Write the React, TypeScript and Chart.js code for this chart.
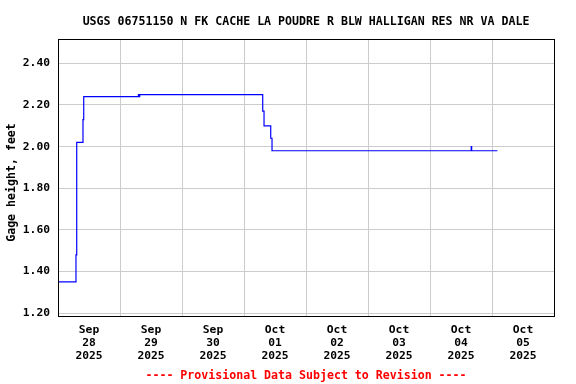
import React, { useEffect, useRef } from 'react';
import { Chart, registerables } from 'chart.js';

Chart.register(...registerables);

const TITLE = 'USGS 06751150 N FK CACHE LA POUDRE R BLW HALLIGAN RES NR VA DALE';
const Y_TITLE = 'Gage height, feet';
const FOOTER = '---- Provisional Data Subject to Revision ----';

// x in days from Sep 28 2025 00:00
const dayTicks = [0, 1, 2, 3, 4, 5, 6, 7];
const dayMonths = ['Sep', 'Sep', 'Sep', 'Oct', 'Oct', 'Oct', 'Oct', 'Oct'];
const dayNumbers = ['28', '29', '30', '01', '02', '03', '04', '05'];
const dayYears = ['2025', '2025', '2025', '2025', '2025', '2025', '2025', '2025'];

const yTicks = [1.2, 1.4, 1.6, 1.8, 2.0, 2.2, 2.4];

const times = [-0.5, -0.21, -0.198, -0.097, -0.085, 0.797, 0.807, 0.818, 2.802, 2.823, 2.931, 2.952, 6.165, 6.172, 6.587];
const gage = [1.35, 1.48, 2.02, 2.13, 2.24, 2.25, 2.24, 2.25, 2.17, 2.10, 2.04, 1.98, 2.00, 1.98, 1.98];

const FONT = "'DejaVu Sans Mono', 'Liberation Mono', monospace";

export default function App() {
  const ref = useRef<HTMLCanvasElement>(null);

  useEffect(() => {
    const canvas = ref.current!;
    const textPlugin = {
      id: 'usgsTexts',
      afterDraw(chart: any) {
        const ctx = chart.ctx as CanvasRenderingContext2D;
        const a = chart.chartArea;
        const cx = (a.left + a.right) / 2;
        ctx.save();
        ctx.strokeStyle = '#000000';
        ctx.lineWidth = 1;
        ctx.strokeRect(Math.round(a.left) + 0.5, Math.round(a.top) + 0.5, Math.round(a.right - a.left), Math.round(a.bottom - a.top));
        ctx.fillStyle = '#000000';
        ctx.textAlign = 'center';
        ctx.textBaseline = 'alphabetic';
        ctx.font = `bold 11.6px ${FONT}`;
        ctx.fillText(TITLE, cx, 25);
        ctx.fillStyle = '#ff0000';
        ctx.fillText(FOOTER, cx, 379);
        ctx.fillStyle = '#000000';
        ctx.font = `bold 11.6px ${FONT}`;
        ctx.translate(12, 182.5);
        ctx.rotate(-Math.PI / 2);
        ctx.textBaseline = 'middle';
        ctx.fillText(Y_TITLE, 0, 0);
        ctx.restore();
      },
    };

    const chart = new Chart(canvas, {
      type: 'line',
      data: {
        datasets: [
          {
            data: times.map((t, i) => ({ x: t, y: gage[i] })),
            borderColor: '#0000ff',
            borderWidth: 1.2,
            pointRadius: 0,
            stepped: true,
            fill: false,
          },
        ],
      },
      options: {
        animation: false,
        responsive: false,
        maintainAspectRatio: false,
        layout: { padding: { left: 0, top: 39, right: 22, bottom: 0 } },
        plugins: {
          legend: { display: false },
          tooltip: { enabled: false },
          title: { display: false },
        },
        scales: {
          x: {
            type: 'linear',
            min: -0.5,
            max: 7.5,
            afterBuildTicks: (s: any) => {
              s.ticks = dayTicks.map((v) => ({ value: v }));
            },
            afterFit: (s: any) => {
              s.height = 68;
            },
            grid: { offset: true, color: '#cccccc', drawTicks: false, lineWidth: 1 },
            border: { display: true, color: '#000000' },
            ticks: {
              autoSkip: false,
              maxRotation: 0,
              padding: 8,
              color: '#000000',
              font: { family: FONT, size: 11.3, weight: 'bold', lineHeight: 1.12 },
              callback: (v: any) => {
                const i = Math.round(Number(v));
                return [dayMonths[i], dayNumbers[i], dayYears[i]];
              },
            },
          },
          y: {
            type: 'linear',
            min: 1.186,
            max: 2.517,
            afterBuildTicks: (s: any) => {
              s.ticks = yTicks.map((v) => ({ value: v }));
            },
            afterFit: (s: any) => {
              s.width = 58;
            },
            grid: { color: '#cccccc', drawTicks: false, lineWidth: 1 },
            border: { display: true, color: '#000000' },
            ticks: {
              padding: 8,
              color: '#000000',
              font: { family: FONT, size: 11.3, weight: 'bold' },
              callback: (v: any) => Number(v).toFixed(2),
            },
          },
        },
      },
      plugins: [textPlugin],
    } as any);

    return () => chart.destroy();
  }, []);

  return (
    <div style={{ position: 'absolute', left: 0, top: 0, width: 576, height: 384, background: '#ffffff' }}>
      <canvas ref={ref} width={576} height={384} style={{ display: 'block' }} />
    </div>
  );
}
